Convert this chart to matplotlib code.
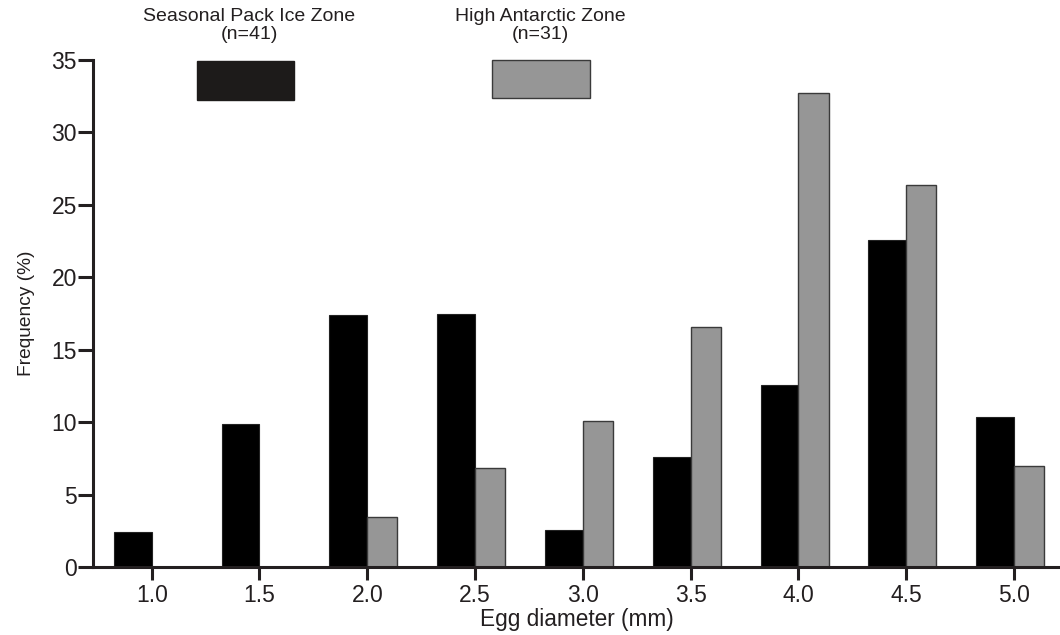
import matplotlib
matplotlib.use("Agg")
import matplotlib.pyplot as plt
from matplotlib.patches import Rectangle
import numpy as np

# ---------------------------------------------------------------------------
# Data
# ---------------------------------------------------------------------------
egg_diameter = [1.0, 1.5, 2.0, 2.5, 3.0, 3.5, 4.0, 4.5, 5.0]
tick_labels = ["1.0", "1.5", "2.0", "2.5", "3.0", "3.5", "4.0", "4.5", "5.0"]
seasonal_pack_ice = [2.4, 9.9, 17.4, 17.45, 2.55, 7.6, 12.55, 22.55, 10.35]
high_antarctic = [0.0, 0.0, 3.45, 6.8, 10.05, 16.55, 32.75, 26.4, 6.95]

series_names = ["Seasonal Pack Ice Zone\n(n=41)", "High Antarctic Zone\n(n=31)"]

INK = "#231f20"
GREY = "#969696"

plt.rcParams["font.family"] = ["Liberation Sans", "DejaVu Sans"]

fig = plt.figure(figsize=(10.6, 6.35), dpi=100)
ax = fig.add_axes([0.0882, 0.1071, 0.9118, 0.7984])

# black bars sit left of the tick, grey bars right of it
ax.bar(egg_diameter, seasonal_pack_ice, width=-0.176, align="edge",
       color="black", edgecolor="#222222", linewidth=0.8, zorder=2)
hi_x = [x for x, v in zip(egg_diameter, high_antarctic) if v > 0]
hi_v = [v for v in high_antarctic if v > 0]
ax.bar(hi_x, hi_v, width=0.14, align="edge",
       color=GREY, edgecolor="#3a3a3a", linewidth=1.0, zorder=2)

ax.set_xlim(0.73, 5.213)
ax.set_ylim(0, 35)
ax.set_xticks(egg_diameter)
ax.set_xticklabels(tick_labels)
ax.set_yticks(np.arange(0, 36, 5))

for side in ("top", "right"):
    ax.spines[side].set_visible(False)
for side in ("left", "bottom"):
    ax.spines[side].set_linewidth(2.2)
    ax.spines[side].set_color(INK)

ax.tick_params(axis="both", direction="out", width=2.2,
               color=INK, labelcolor=INK, labelsize=16.5)
ax.tick_params(axis="x", length=9, pad=3)
ax.tick_params(axis="y", length=11, pad=1)

ax.set_xlabel("Egg diameter (mm)", fontsize=16.3, color=INK, labelpad=1)
ax.set_ylabel("Frequency (%)", fontsize=13.8, color=INK, labelpad=12)

# hand-made legend: swatch under a centred two-line caption
legend_boxes = [
    (0.107, 0.921, 0.1005, 0.077, "#1d1b1a", "#1d1b1a", 0.235),
    (0.412, 0.925, 0.1017, 0.075, GREY, "#3a3a3a", 0.510),
]
for (x0, y0, w, h, fc, ec, tx), name in zip(legend_boxes, series_names):
    ax.add_patch(Rectangle((x0, y0), w, h, transform=ax.transAxes,
                           facecolor=fc, edgecolor=ec, linewidth=1.0,
                           clip_on=False, zorder=3))
    fig.text(tx, 1 - 8 / 635, name, ha="center", va="top",
             fontsize=14, color=INK, linespacing=1.05)

fig.savefig("out.png", dpi=100)
